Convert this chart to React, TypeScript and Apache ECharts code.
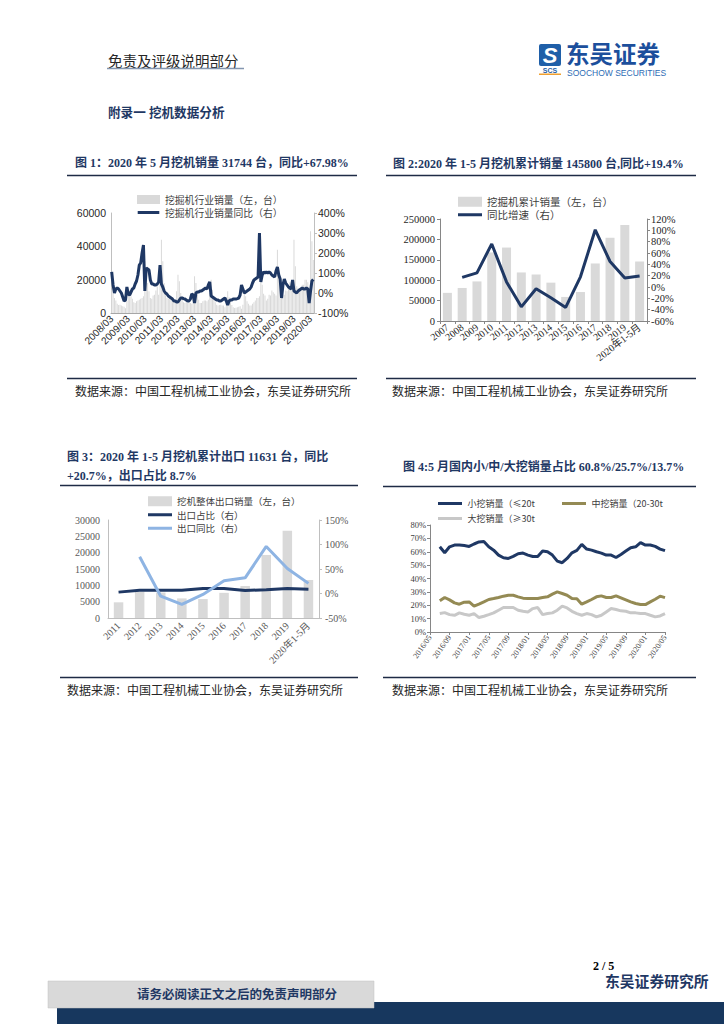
import React, { useEffect, useRef } from "react";
import * as echarts from "echarts";

// ---------- Chart 1: monthly excavator sales & YoY (2008/03 - 2020/05)
const c1Sales = [
  14000, 12000, 9000, 7500, 5500, 4800, 5000, 4500, 4000, 3800,
  2800, 7000, 14500, 13500, 10000, 8500, 6500, 6000, 7000, 7500, 8000, 8500,
  9000, 10000, 31000, 27000, 18000, 13000, 9000, 8500, 10500, 11000, 13500, 16000,
  11000, 25000, 44000, 31000, 18000, 12000, 9000, 8500, 10000, 9000, 9500, 8500,
  6000, 13000, 23000, 19000, 12000, 9000, 6500, 6000, 6500, 6000, 6500, 6000,
  5500, 10000, 22000, 18000, 11000, 8000, 6000, 6000, 7000, 7500, 7500, 7000,
  8000, 12000, 20000, 14000, 9000, 6500, 5000, 4500, 4800, 5000, 4500, 4500,
  3500, 7000, 13000, 9500, 6500, 4800, 3500, 3000, 3200, 3500, 3800, 4000,
  2500, 5000, 14000, 10000, 7000, 5500, 4500, 4500, 5500, 6500, 7500, 9000,
  9000, 10000, 23000, 17000, 11500, 10500, 7500, 8500, 11000, 10500, 13500, 12500,
  11500, 10500, 38000, 25000, 17000, 14000, 10500, 11000, 13500, 13000, 16000, 18500,
  14500, 16000, 44000, 28000, 16000, 15000, 13000, 13500, 17000, 17000, 20000, 20000,
  18500, 10000, 49000, 43000, 31744,
];
const c1Yoy = [
  106, 40, 0, 20, 25, 20, 10, 0, -20, -40,
  -35, 30, -5, -10, 5, 20, 25, 45, 60, 90, 140, 150,
  200, 240, 10, 125, 120, 115, 65, 45, 45, 40, 40, 45,
  55, 140, 45, 30, 10, 0, -5, -15, -20, -25, -30, -40,
  -40, -45, -45, -35, -25, -25, -28, -30, -35, -40, -40, -30,
  -5, -10, -50, 0, 5, 5, 10, 10, 15, 20, 25, 20,
  40, 55, -15, -20, -25, -30, -35, -35, -40, -40, -35, -30,
  -25, -40, -60, -40, -35, -35, -30, -30, -30, -28, -25, -10,
  40, 20, 0, 5, 10, 15, 20, 30, 50, 65, 70, 75,
  80, 300, 55, 90, 105, 100, 105, 100, 105, 100, 90, 85,
  80, 110, 130, 90, 70, -25, 40, 70, 50, 40, 30, 25,
  20, 65, 10, 5, 0, 10, 15, 20, 25, 20, 20, 25,
  20, -50, 10, 60, 68,
];
const c1Months: string[] = [];
for (let y = 2008; y <= 2020; y++) {
  for (let m = 1; m <= 12; m++) {
    if ((y === 2008 && m < 3) || (y === 2020 && m > 5)) continue;
    c1Months.push(`${y}/${String(m).padStart(2, "0")}`);
  }
}

// ---------- Chart 2: annual cumulative sales & YoY
const c2Years = ["2007", "2008", "2009", "2010", "2011", "2012", "2013", "2014", "2015", "2016", "2017", "2018", "2019", "2020年1-5月"];
const c2Sales = [69000, 81000, 97000, 168000, 180000, 119000, 114000, 94000, 59000, 71000, 141000, 204000, 235000, 145800];
const c2Yoy = [null, 17, 25, 76, 9, -35, -3, -19, -36, 18, 101, 45, 16, 19.4];

// ---------- Chart 3: exports
const c3Years = ["2011", "2012", "2013", "2014", "2015", "2016", "2017", "2018", "2019", "2020年1-5月"];
const c3Export = [4800, 8050, 7800, 6000, 5800, 7700, 9800, 19300, 26700, 11631];
const c3Share = [2.8, 6.5, 6.5, 6.5, 10, 10, 6.3, 7.5, 10, 8.7];
const c3Yoy = [null, 75, -5.5, -22, -2, 26, 32, 96, 51, 20.7];

// ---------- Chart 4: small / mid / large share (2016/05 - 2020/05)
const c4Months: string[] = [];
for (let y = 2016; y <= 2020; y++) {
  for (let m = 1; m <= 12; m++) {
    if ((y === 2016 && m < 5) || (y === 2020 && m > 5)) continue;
    c4Months.push(`${y}/${String(m).padStart(2, "0")}`);
  }
}
const c4Small = [null, null, 63.7, 59.2, 63.7, 65, 65, 64.6, 64, 65.8, 67.3, 67.6, 63.7, 61.2, 57.5, 55.5, 55, 56.5, 58.5, 59, 57.5, 56.5, 56.5, 60.5, 60, 57.5, 53, 51.8, 55, 59.2, 61, 65.5, 62, 61.2, 60, 59, 57.5, 57.5, 55.7, 58, 60.5, 63, 63.7, 66.8, 65, 65, 64, 62, 60.8];
const c4Mid = [null, null, 23.3, 25.8, 24, 21.8, 20.8, 22.3, 22.5, 19.3, 20.8, 22.5, 24.3, 25, 25.8, 26.8, 27.5, 27.5, 26.3, 25.3, 25, 25, 25, 25.8, 26.3, 28.3, 30, 28.8, 27.5, 25, 24.8, 20.8, 22.5, 24.3, 26.3, 27, 25.8, 25.8, 27, 25.5, 24, 22.5, 21.3, 20.5, 20.5, 22.5, 24.5, 26.8, 25.7];
const c4Large = [null, null, 13.8, 14.5, 13, 12.5, 14.3, 13.3, 12.5, 13.8, 10.8, 11.8, 13, 14.3, 16.3, 18.3, 18.3, 18.3, 16.3, 15.5, 15, 17.5, 18.3, 13, 13.8, 14.3, 16.3, 19.3, 18, 15.5, 13.8, 12.5, 13.8, 13, 11.3, 12.5, 15, 17.5, 16.8, 15.8, 15.5, 14.3, 14.3, 13.8, 13.8, 12.5, 11.3, 12, 13.7];

const SERIF = '"Liberation Serif", "Noto Sans CJK SC", serif';
const SANS = '"Noto Sans CJK SC", "Liberation Sans", sans-serif';
const ARIAL = '"Liberation Sans", Arial, sans-serif';
const NAVY = "#1f3864";
const BAR = "#d9d9d9";
const AXIS = "#a6a6a6";
// thick horizontal line legend icon (bounding box 24x10, stroke band in the middle)
const LINE_ICON = "path://M0,0L24,0M0,10L24,10M0,3.4L24,3.4L24,6.6L0,6.6Z";
const plain = (v: number) => String(v);

function txt(text: string, x: number, y: number, size: number, opts: any = {}) {
  return {
    type: "text",
    x,
    y,
    silent: true,
    style: {
      text,
      fill: opts.fill || "#262626",
      fontSize: size,
      fontFamily: opts.family || SERIF,
      fontWeight: opts.weight || "normal",
      fontStyle: opts.style || "normal",
      align: opts.align || "left",
      verticalAlign: "middle",
    },
  };
}
function hline(x1: number, x2: number, y: number, stroke: string, w: number) {
  return { type: "line", silent: true, shape: { x1, y1: y, x2, y2: y }, style: { stroke, lineWidth: w } };
}
function rect(x: number, y: number, width: number, height: number, fill: string, extra: any = {}) {
  return { type: "rect", silent: true, shape: { x, y, width, height, r: extra.r || 0 }, style: { fill, stroke: extra.stroke, lineWidth: extra.lw || 0 } };
}

const SOURCE = "数据来源：中国工程机械工业协会，东吴证券研究所";

export default function App() {
  const ref = useRef<HTMLDivElement>(null);
  useEffect(() => {
    if (!ref.current) return;
    const chart = echarts.init(ref.current, undefined, { renderer: "svg" });
    const legendText = { fontFamily: SANS, color: "#404040" };
    const option: any = {
      animation: false,
      backgroundColor: "#ffffff",
      grid: [
        { left: 111, top: 213, width: 203, height: 100 },
        { left: 440, top: 219, width: 207, height: 102 },
        { left: 108, top: 520, width: 211, height: 98 },
        { left: 430, top: 525, width: 235, height: 107 },
      ],
      legend: [
        {
          data: [{ name: "挖掘机行业销量（左，台）", icon: "rect" }, { name: "挖掘机行业销量同比（右）", icon: LINE_ICON }],
          orient: "vertical", left: 137, top: 194, itemWidth: 23, itemHeight: 9, itemGap: 2, padding: 0,
          textStyle: { ...legendText, fontSize: 9.8, lineHeight: 11 },
        },
        {
          data: [{ name: "挖掘机累计销量（左，台）", icon: "rect" }, { name: "同比增速（右）", icon: LINE_ICON }],
          orient: "vertical", left: 458, top: 196, itemWidth: 24, itemHeight: 10, itemGap: 1.5, padding: 0,
          textStyle: { ...legendText, fontSize: 10.5, lineHeight: 11.5 },
        },
        {
          data: [{ name: "挖机整体出口销量（左，台）", icon: "rect" }, { name: "出口占比（右）", icon: LINE_ICON }, { name: "出口同比（右）", icon: LINE_ICON }],
          orient: "vertical", left: 148, top: 495.5, itemWidth: 24, itemHeight: 10, itemGap: 2, padding: 0,
          textStyle: { ...legendText, fontSize: 9.5, lineHeight: 11.5 },
        },
        {
          data: [{ name: "小挖销量（≤20t", icon: LINE_ICON }, { name: "大挖销量（≥30t", icon: LINE_ICON }],
          orient: "vertical", left: 438, top: 498, itemWidth: 25, itemHeight: 10, itemGap: 4, padding: 0,
          textStyle: { ...legendText, fontSize: 9, lineHeight: 11 },
        },
        {
          data: [{ name: "中挖销量（20-30t", icon: LINE_ICON }],
          orient: "vertical", left: 562, top: 498, itemWidth: 25, itemHeight: 10, itemGap: 4, padding: 0,
          textStyle: { ...legendText, fontSize: 9, lineHeight: 11 },
        },
      ],
      xAxis: [
        {
          gridIndex: 0, type: "category", data: c1Months, boundaryGap: true,
          axisLine: { lineStyle: { color: AXIS } }, axisTick: { show: false },
          axisLabel: { interval: 11, rotate: 45, fontSize: 10, fontFamily: ARIAL, color: "#262626", margin: 4 },
        },
        {
          gridIndex: 1, type: "category", data: c2Years,
          axisLine: { lineStyle: { color: "#868686" } }, axisTick: { show: true, length: 3, lineStyle: { color: "#868686" } },
          axisLabel: { interval: 0, rotate: 38, fontSize: 10, fontFamily: SERIF, color: "#262626", margin: 5 },
        },
        {
          gridIndex: 2, type: "category", data: c3Years,
          axisLine: { lineStyle: { color: "#bfbfbf" } }, axisTick: { show: false },
          axisLabel: { interval: 0, rotate: 45, fontSize: 10, fontFamily: SERIF, color: "#595959", margin: 6 },
        },
        {
          gridIndex: 3, type: "category", data: c4Months, boundaryGap: false,
          axisLine: { lineStyle: { color: "#868686" } }, axisTick: { show: true, interval: 3, length: 3, lineStyle: { color: "#868686" } },
          axisLabel: { interval: 3, rotate: 55, fontSize: 8, fontFamily: SERIF, color: "#404040", margin: 4 },
        },
      ],
      yAxis: [
        {
          gridIndex: 0, type: "value", min: 0, max: 60000, interval: 20000,
          axisLine: { show: true, lineStyle: { color: "#bfbfbf" } }, axisTick: { show: false }, splitLine: { show: false },
          axisLabel: { formatter: plain, fontSize: 10.5, fontFamily: ARIAL, color: "#262626", margin: 5 },
        },
        {
          gridIndex: 0, type: "value", position: "right", min: -100, max: 400, interval: 100,
          axisLine: { show: true, lineStyle: { color: "#bfbfbf" } }, axisTick: { show: true, length: 3, lineStyle: { color: "#bfbfbf" } }, splitLine: { show: false },
          axisLabel: { formatter: "{value}%", fontSize: 10.5, fontFamily: ARIAL, color: "#262626", margin: 4 },
        },
        {
          gridIndex: 1, type: "value", min: 0, max: 250000, interval: 50000,
          axisLine: { show: true, lineStyle: { color: "#868686" } }, axisTick: { show: true, length: 3, lineStyle: { color: "#868686" } }, splitLine: { show: false },
          axisLabel: { formatter: plain, fontSize: 10.5, fontFamily: SERIF, color: "#262626", margin: 5 },
        },
        {
          gridIndex: 1, type: "value", position: "right", min: -60, max: 120, interval: 20,
          axisLine: { show: true, lineStyle: { color: "#868686" } }, axisTick: { show: true, length: 3, lineStyle: { color: "#868686" } }, splitLine: { show: false },
          axisLabel: { formatter: "{value}%", fontSize: 10.5, fontFamily: SERIF, color: "#262626", margin: 4 },
        },
        {
          gridIndex: 2, type: "value", min: 0, max: 30000, interval: 5000,
          axisLine: { show: true, lineStyle: { color: "#bfbfbf" } }, axisTick: { show: false }, splitLine: { show: false },
          axisLabel: { formatter: plain, fontSize: 10, fontFamily: SERIF, color: "#595959", margin: 8 },
        },
        {
          gridIndex: 2, type: "value", position: "right", min: -50, max: 150, interval: 50,
          axisLine: { show: true, lineStyle: { color: "#bfbfbf" } }, axisTick: { show: true, length: 3, lineStyle: { color: "#bfbfbf" } }, splitLine: { show: false },
          axisLabel: { formatter: "{value}%", fontSize: 10, fontFamily: SERIF, color: "#595959", margin: 6 },
        },
        {
          gridIndex: 3, type: "value", min: 0, max: 80, interval: 10,
          axisLine: { show: true, lineStyle: { color: "#868686" } }, axisTick: { show: true, length: 3, lineStyle: { color: "#868686" } }, splitLine: { show: false },
          axisLabel: { formatter: "{value}%", fontSize: 8.5, fontFamily: SERIF, color: "#404040", margin: 4 },
        },
      ],
      series: [
        { name: "挖掘机行业销量（左，台）", type: "bar", xAxisIndex: 0, yAxisIndex: 0, data: c1Sales, barCategoryGap: "30%", itemStyle: { color: BAR } },
        { name: "挖掘机行业销量同比（右）", type: "line", xAxisIndex: 0, yAxisIndex: 1, data: c1Yoy, symbol: "none", lineStyle: { color: NAVY, width: 3 }, itemStyle: { color: NAVY } },
        { name: "挖掘机累计销量（左，台）", type: "bar", xAxisIndex: 1, yAxisIndex: 2, data: c2Sales, barWidth: 9, itemStyle: { color: BAR } },
        { name: "同比增速（右）", type: "line", xAxisIndex: 1, yAxisIndex: 3, data: c2Yoy, symbol: "none", connectNulls: false, lineStyle: { color: NAVY, width: 3 }, itemStyle: { color: NAVY } },
        { name: "挖机整体出口销量（左，台）", type: "bar", xAxisIndex: 2, yAxisIndex: 4, data: c3Export, barWidth: 9.5, itemStyle: { color: BAR } },
        { name: "出口占比（右）", type: "line", xAxisIndex: 2, yAxisIndex: 5, data: c3Share, symbol: "none", lineStyle: { color: NAVY, width: 3 }, itemStyle: { color: NAVY } },
        { name: "出口同比（右）", type: "line", xAxisIndex: 2, yAxisIndex: 5, data: c3Yoy, symbol: "none", lineStyle: { color: "#8eb4e3", width: 3 }, itemStyle: { color: "#8eb4e3" } },
        { name: "小挖销量（≤20t", type: "line", xAxisIndex: 3, yAxisIndex: 6, data: c4Small, symbol: "none", lineStyle: { color: NAVY, width: 3 }, itemStyle: { color: NAVY } },
        { name: "中挖销量（20-30t", type: "line", xAxisIndex: 3, yAxisIndex: 6, data: c4Mid, symbol: "none", lineStyle: { color: "#948a54", width: 3 }, itemStyle: { color: "#948a54" } },
        { name: "大挖销量（≥30t", type: "line", xAxisIndex: 3, yAxisIndex: 6, data: c4Large, symbol: "none", lineStyle: { color: "#c8c8c8", width: 3 }, itemStyle: { color: "#c8c8c8" } },
      ],
      graphic: [
        // header
        txt("免责及评级说明部分", 108, 60, 14.5, { family: SANS, fill: "#262626" }),
        hline(107, 244, 68.5, "#8496b0", 1.5),
        // logo
        rect(539, 44, 22, 22, "#1f5fa8", { r: 2 }),
        txt("S", 550, 55, 22, { family: ARIAL, weight: "bold", style: "italic", fill: "#ffffff", align: "center" }),
        txt("SCS", 550, 70, 7, { family: ARIAL, weight: "bold", fill: "#1f5fa8", align: "center" }),
        rect(539, 73.5, 22, 1.5, "#f0a030"),
        txt("东吴证券", 566, 52.5, 23.5, { family: SANS, weight: "bold", fill: "#1c4f9c" }),
        txt("SOOCHOW SECURITIES", 567, 73, 8.5, { family: ARIAL, fill: "#2d6cb5" }),
        // section heading
        txt("附录一 挖机数据分析", 108, 113, 12.6, { weight: "bold", fill: NAVY }),
        // chart titles
        txt("图 1：2020 年 5 月挖机销量 31744 台，同比+67.98%", 75, 163, 12, { weight: "bold", fill: NAVY }),
        hline(67, 357, 175.5, "#1e2b45", 1.5),
        txt("图 2:2020 年 1-5 月挖机累计销量 145800 台,同比+19.4%", 393, 164, 12, { weight: "bold", fill: NAVY }),
        hline(386, 696, 175.5, "#1e2b45", 1.5),
        txt("图 3：2020 年 1-5 月挖机累计出口 11631 台，同比", 67, 457, 12, { weight: "bold", fill: NAVY }),
        txt("+20.7%，出口占比 8.7%", 67, 476, 12, { weight: "bold", fill: NAVY }),
        hline(60, 358, 485.5, "#1e2b45", 1.5),
        txt("图 4:5 月国内小/中/大挖销量占比 60.8%/25.7%/13.7%", 403, 467, 12, { weight: "bold", fill: NAVY }),
        hline(383, 696, 486.5, "#1e2b45", 1.5),
        // sources
        hline(67, 357, 378.5, "#1e2b45", 1.5),
        hline(386, 696, 378.5, "#1e2b45", 1.5),
        txt(SOURCE, 75, 390, 12, { family: SANS, fill: "#262626" }),
        txt(SOURCE, 392, 390, 12, { family: SANS, fill: "#262626" }),
        hline(60, 358, 677.5, "#1e2b45", 1.5),
        hline(383, 696, 677.5, "#1e2b45", 1.5),
        txt(SOURCE, 67, 689, 12, { family: SANS, fill: "#262626" }),
        txt(SOURCE, 392, 689, 12, { family: SANS, fill: "#262626" }),
        // footer
        txt("2 / 5", 593, 966, 12, { weight: "bold", fill: "#000000" }),
        txt("东吴证券研究所", 605, 982, 14.8, { weight: "bold", fill: NAVY }),
        rect(57, 1002, 667, 22, "#17375e"),
        rect(48, 981, 326, 27, "#d9d9d9", { stroke: "#c0c0c0", lw: 0.5 }),
        txt("请务必阅读正文之后的免责声明部分", 237, 994.5, 12.5, { weight: "bold", fill: NAVY, align: "center" }),
      ],
    };
    chart.setOption(option);
    return () => chart.dispose();
  }, []);
  return <div ref={ref} style={{ position: "absolute", left: 0, top: 0, width: 724, height: 1024 }} />;
}
